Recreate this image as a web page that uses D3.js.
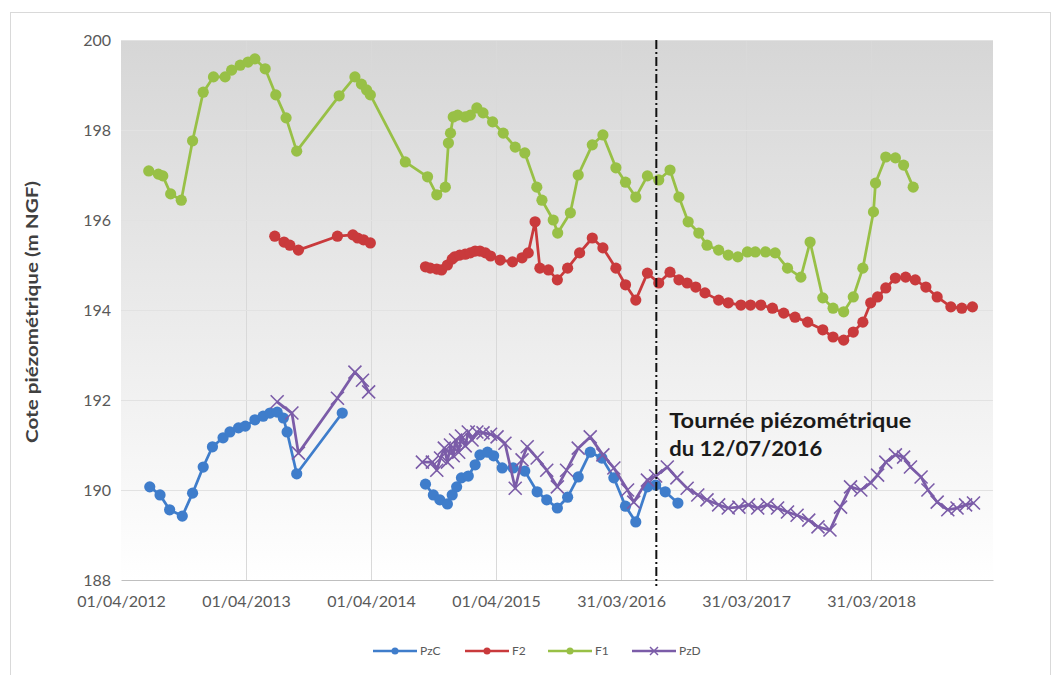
<!DOCTYPE html>
<html>
<head>
<meta charset="utf-8">
<script src="https://cdn.jsdelivr.net/npm/d3@7"></script>
<style>
  html, body { margin: 0; padding: 0; background: #ffffff; }
  svg { display: block; font-family: Lato, "Open Sans", sans-serif; }
</style>
</head>
<body>
<svg id="chart" width="1054" height="675"></svg>
<script>
// Piezometric levels (m NGF) of four wells; null marks a break in the record.
const seriesNames = ["PzC", "F2", "F1", "PzD"];
const seriesColors = ["#3f7dcb", "#c93a3c", "#98c046", "#7b5ca8"];

const pzC = [
  ["2012-06-24", 190.07], ["2012-07-24", 189.89], ["2012-08-21", 189.56], ["2012-09-27", 189.42],
  ["2012-10-27", 189.93], ["2012-11-27", 190.51], ["2012-12-24", 190.96], ["2013-01-24", 191.16],
  ["2013-02-13", 191.29], ["2013-03-10", 191.38], ["2013-03-30", 191.42], ["2013-04-27", 191.56],
  ["2013-05-21", 191.64], ["2013-06-10", 191.71], ["2013-07-01", 191.73], ["2013-07-19", 191.60],
  ["2013-07-30", 191.29], ["2013-08-27", 190.36], ["2014-01-07", 191.71],
  null,
  ["2014-09-07", 190.13], ["2014-09-30", 189.89], ["2014-10-19", 189.78], ["2014-11-10", 189.69],
  ["2014-11-24", 189.89], ["2014-12-07", 190.07], ["2014-12-21", 190.27], ["2015-01-10", 190.31],
  ["2015-01-30", 190.56], ["2015-02-13", 190.78], ["2015-03-07", 190.84], ["2015-03-25", 190.76],
  ["2015-04-19", 190.49], ["2015-05-21", 190.49], ["2015-06-24", 190.42], ["2015-07-30", 189.96],
  ["2015-08-27", 189.78], ["2015-09-27", 189.60], ["2015-10-27", 189.84], ["2015-11-27", 190.29],
  ["2016-01-01", 190.84], ["2016-02-04", 190.71], ["2016-03-10", 190.27], ["2016-04-13", 189.64],
  ["2016-05-13", 189.29], ["2016-06-16", 190.07], ["2016-07-10", 190.11], ["2016-08-07", 189.96],
  ["2016-09-13", 189.71]
];

const f2 = [
  ["2013-06-24", 195.64], ["2013-07-21", 195.51], ["2013-08-07", 195.44], ["2013-09-01", 195.33],
  ["2013-12-24", 195.64], ["2014-02-07", 195.67], ["2014-02-21", 195.60], ["2014-03-10", 195.56],
  ["2014-03-30", 195.49],
  null,
  ["2014-09-07", 194.96], ["2014-09-21", 194.93], ["2014-10-10", 194.91], ["2014-10-24", 194.89],
  ["2014-11-10", 195.00], ["2014-11-24", 195.13], ["2014-12-01", 195.18], ["2014-12-16", 195.22],
  ["2015-01-01", 195.24], ["2015-01-16", 195.27], ["2015-01-30", 195.31], ["2015-02-13", 195.31],
  ["2015-03-01", 195.27], ["2015-03-16", 195.20], ["2015-04-13", 195.11], ["2015-05-19", 195.07],
  ["2015-06-16", 195.16], ["2015-07-04", 195.27], ["2015-07-24", 195.96], ["2015-08-07", 194.93],
  ["2015-09-01", 194.89], ["2015-09-27", 194.67], ["2015-10-27", 194.93], ["2015-12-01", 195.27],
  ["2016-01-07", 195.60], ["2016-02-07", 195.38], ["2016-03-16", 194.93], ["2016-04-13", 194.56],
  ["2016-05-13", 194.22], ["2016-06-16", 194.82], ["2016-07-19", 194.60], ["2016-08-21", 194.84],
  ["2016-09-16", 194.67], ["2016-10-10", 194.60], ["2016-11-04", 194.51], ["2016-12-01", 194.38],
  ["2017-01-10", 194.22], ["2017-02-07", 194.16], ["2017-03-16", 194.11], ["2017-04-13", 194.11],
  ["2017-05-13", 194.11], ["2017-06-16", 194.04], ["2017-07-19", 193.93], ["2017-08-21", 193.84],
  ["2017-09-27", 193.73], ["2017-11-10", 193.56], ["2017-12-10", 193.40], ["2018-01-10", 193.33],
  ["2018-02-07", 193.51], ["2018-03-07", 193.73], ["2018-03-30", 194.16], ["2018-04-19", 194.29],
  ["2018-05-13", 194.49], ["2018-06-10", 194.71], ["2018-07-10", 194.73], ["2018-08-07", 194.67],
  ["2018-09-07", 194.51], ["2018-10-10", 194.29], ["2018-11-19", 194.07], ["2018-12-21", 194.04],
  ["2019-01-21", 194.07]
];

const f1 = [
  ["2012-06-21", 197.09], ["2012-07-19", 197.02], ["2012-08-01", 196.98], ["2012-08-24", 196.58],
  ["2012-09-24", 196.44], ["2012-10-27", 197.76], ["2012-11-27", 198.84], ["2012-12-27", 199.18],
  ["2013-01-30", 199.18], ["2013-02-18", 199.33], ["2013-03-15", 199.44], ["2013-04-07", 199.51],
  ["2013-04-27", 199.58], ["2013-05-27", 199.36], ["2013-06-27", 198.78], ["2013-07-27", 198.27],
  ["2013-08-27", 197.53], ["2013-12-29", 198.76], ["2014-02-13", 199.18], ["2014-03-04", 199.02],
  ["2014-03-19", 198.89], ["2014-03-30", 198.78], ["2014-07-10", 197.29], ["2014-09-13", 196.96],
  ["2014-10-10", 196.56], ["2014-11-04", 196.73], ["2014-11-13", 197.71], ["2014-11-19", 197.93],
  ["2014-11-27", 198.29], ["2014-12-10", 198.33], ["2015-01-01", 198.29], ["2015-01-16", 198.33],
  ["2015-02-04", 198.49], ["2015-02-22", 198.38], ["2015-03-22", 198.18], ["2015-04-22", 197.93],
  ["2015-05-27", 197.62], ["2015-06-24", 197.49], ["2015-07-29", 196.73], ["2015-08-13", 196.44],
  ["2015-09-15", 196.00], ["2015-09-28", 195.71], ["2015-11-04", 196.16], ["2015-11-27", 197.00],
  ["2016-01-07", 197.67], ["2016-02-07", 197.89], ["2016-03-16", 197.16], ["2016-04-13", 196.84],
  ["2016-05-13", 196.51], ["2016-06-16", 196.98], ["2016-07-19", 196.89], ["2016-08-21", 197.11],
  ["2016-09-16", 196.51], ["2016-10-13", 195.96], ["2016-11-13", 195.71], ["2016-12-07", 195.44],
  ["2017-01-10", 195.33], ["2017-02-07", 195.22], ["2017-03-07", 195.18], ["2017-04-04", 195.29],
  ["2017-04-27", 195.29], ["2017-05-27", 195.29], ["2017-06-24", 195.27], ["2017-07-30", 194.93],
  ["2017-09-07", 194.73], ["2017-10-04", 195.51], ["2017-11-10", 194.27], ["2017-12-10", 194.04],
  ["2018-01-10", 193.96], ["2018-02-07", 194.29], ["2018-03-07", 194.93], ["2018-04-07", 196.18],
  ["2018-04-13", 196.82], ["2018-05-13", 197.40], ["2018-06-10", 197.38], ["2018-07-04", 197.22],
  ["2018-08-01", 196.73]
];

const pzD = [
  ["2013-07-01", 191.96], ["2013-08-13", 191.71], ["2013-09-01", 190.82], ["2013-12-24", 192.04],
  ["2014-02-13", 192.62], ["2014-03-07", 192.44], ["2014-03-25", 192.18],
  null,
  ["2014-08-29", 190.62], ["2014-09-27", 190.62], ["2014-10-10", 190.44], ["2014-10-21", 190.71],
  ["2014-11-01", 190.93], ["2014-11-10", 190.62], ["2014-11-19", 191.00], ["2014-11-27", 190.76],
  ["2014-12-04", 191.11], ["2014-12-13", 190.84], ["2014-12-21", 191.20], ["2015-01-01", 190.98],
  ["2015-01-10", 191.29], ["2015-01-21", 191.11], ["2015-02-04", 191.29], ["2015-02-22", 191.27],
  ["2015-03-16", 191.24], ["2015-04-04", 191.18], ["2015-04-27", 191.04], ["2015-05-27", 190.04],
  ["2015-06-16", 190.67], ["2015-07-01", 190.96], ["2015-07-30", 190.71], ["2015-08-27", 190.44],
  ["2015-09-27", 190.07], ["2015-10-24", 190.44], ["2015-11-27", 190.93], ["2016-01-01", 191.18],
  ["2016-02-07", 190.78], ["2016-03-10", 190.49], ["2016-04-19", 190.00], ["2016-05-07", 189.73],
  ["2016-06-16", 190.22], ["2016-07-10", 190.31], ["2016-08-13", 190.51], ["2016-09-10", 190.27],
  ["2016-10-10", 190.04], ["2016-11-10", 189.89], ["2016-12-07", 189.78], ["2017-01-10", 189.67],
  ["2017-02-07", 189.60], ["2017-03-10", 189.62], ["2017-04-07", 189.67], ["2017-05-04", 189.60],
  ["2017-06-01", 189.67], ["2017-07-01", 189.60], ["2017-07-30", 189.51], ["2017-08-27", 189.44],
  ["2017-09-30", 189.33], ["2017-10-27", 189.18], ["2017-12-01", 189.11], ["2018-01-01", 189.62],
  ["2018-01-30", 190.07], ["2018-03-01", 190.00], ["2018-03-30", 190.16], ["2018-04-19", 190.33],
  ["2018-05-13", 190.62], ["2018-06-10", 190.78], ["2018-07-04", 190.73], ["2018-07-24", 190.51],
  ["2018-08-24", 190.29], ["2018-09-13", 190.00], ["2018-10-10", 189.73], ["2018-11-10", 189.56],
  ["2018-12-07", 189.60], ["2019-01-01", 189.67], ["2019-01-24", 189.71]
];

const xDomain = ["2012-04-01", "2019-03-22"];
const xTickDates = ["2012-04-01", "2013-04-01", "2014-04-01", "2015-04-01", "2016-03-31", "2017-03-31", "2018-03-31"];
const yDomain = [188, 200];
const yTicks = [188, 190, 192, 194, 196, 198, 200];
const surveyDate = "2016-07-12";
const surveyLabel = ["Tournée piézométrique", "du 12/07/2016"];
const yTitle = "Cote piézométrique (m NGF)";

const parse = d3.utcParse("%Y-%m-%d");
const fmt = d3.utcFormat("%d/%m/%Y");

const svg = d3.select("#chart");
const plot = { left: 121, right: 993, top: 40, bottom: 580 };

const x = d3.scaleUtc().domain(xDomain.map(parse)).range([plot.left, plot.right]);
const y = d3.scaleLinear().domain(yDomain).range([plot.bottom, plot.top]);

// outer chart frame
svg.append("rect").attr("x", 10.5).attr("y", 12.5).attr("width", 1040).attr("height", 664)
  .attr("fill", "#ffffff").attr("stroke", "#d9d9d9").attr("stroke-width", 1);

// plot-area gradient fill
const defs = svg.append("defs");
const grad = defs.append("linearGradient").attr("id", "plotFill")
  .attr("x1", 0).attr("y1", 0).attr("x2", 0).attr("y2", 1);
grad.append("stop").attr("offset", "0%").attr("stop-color", "#d6d6d6");
grad.append("stop").attr("offset", "100%").attr("stop-color", "#ffffff");
svg.append("rect").attr("x", plot.left).attr("y", plot.top)
  .attr("width", plot.right - plot.left).attr("height", plot.bottom - plot.top)
  .attr("fill", "url(#plotFill)");

// gridlines
const tickDates = xTickDates.map(parse);
svg.append("g").selectAll("line").data(tickDates.slice(1)).join("line")
  .attr("x1", d => Math.round(x(d)) + 0.5).attr("x2", d => Math.round(x(d)) + 0.5)
  .attr("y1", plot.top).attr("y2", plot.bottom)
  .attr("stroke", "#d9d9d9").attr("stroke-width", 1);
svg.append("g").selectAll("line").data(yTicks.slice(1)).join("line")
  .attr("x1", plot.left).attr("x2", plot.right)
  .attr("y1", d => Math.round(y(d)) + 0.5).attr("y2", d => Math.round(y(d)) + 0.5)
  .attr("stroke", "#e2e2e2").attr("stroke-width", 1);

// axes
const xAxis = svg.append("g").attr("transform", `translate(0,${plot.bottom})`)
  .call(d3.axisBottom(x).tickValues(tickDates).tickFormat(fmt).tickSize(0).tickPadding(16));
xAxis.select(".domain").attr("stroke", "#bfbfbf").attr("stroke-width", 1.2);
xAxis.selectAll("text").attr("fill", "#595959").style("font-size", "16px").style("font-family", "Lato, sans-serif");

const yAxis = svg.append("g").attr("transform", `translate(${plot.left},0)`)
  .call(d3.axisLeft(y).tickValues(yTicks).tickFormat(d3.format("d")).tickSize(0).tickPadding(10));
yAxis.select(".domain").remove();
yAxis.selectAll("text").attr("fill", "#595959").style("font-size", "16px").style("font-family", "Lato, sans-serif");

svg.append("text")
  .attr("transform", "translate(38,312) rotate(-90)")
  .attr("text-anchor", "middle")
  .attr("textLength", 262).attr("lengthAdjust", "spacingAndGlyphs")
  .attr("fill", "#404040").style("font-size", "17px").style("font-weight", "bold")
  .text(yTitle);

// series
const allSeries = [pzC, f2, f1, pzD];
const line = d3.line()
  .defined(d => d !== null)
  .x(d => x(parse(d[0])))
  .y(d => y(d[1]));

allSeries.forEach((data, i) => {
  const g = svg.append("g");
  g.append("path").datum(data).attr("d", line)
    .attr("fill", "none").attr("stroke", seriesColors[i])
    .attr("stroke-width", 2.75).attr("stroke-linejoin", "round");
  const pts = data.filter(d => d !== null);
  if (seriesNames[i] === "PzD") {
    const s = 6.5;
    g.selectAll("path.mk").data(pts).join("path").attr("class", "mk")
      .attr("d", d => {
        const cx = x(parse(d[0])), cy = y(d[1]);
        return `M${cx - s},${cy - s}L${cx + s},${cy + s}M${cx - s},${cy + s}L${cx + s},${cy - s}`;
      })
      .attr("stroke", seriesColors[i]).attr("stroke-width", 1.6).attr("fill", "none");
  } else {
    g.selectAll("circle").data(pts).join("circle")
      .attr("cx", d => x(parse(d[0]))).attr("cy", d => y(d[1])).attr("r", 5.6)
      .attr("fill", seriesColors[i]);
  }
});

// survey date marker
const xs = x(parse(surveyDate));
svg.append("line").attr("x1", xs).attr("x2", xs).attr("y1", plot.top).attr("y2", plot.bottom + 6)
  .attr("stroke", "#111").attr("stroke-width", 2).attr("stroke-dasharray", "9,3,2,3");
const labelWidths = [242, 153];
svg.append("g").selectAll("text").data(surveyLabel).join("text")
  .attr("x", xs + 13).attr("y", (d, i) => 428 + i * 28)
  .attr("textLength", (d, i) => labelWidths[i]).attr("lengthAdjust", "spacingAndGlyphs")
  .attr("fill", "#1a1a1a").style("font-size", "21px").style("font-weight", "bold")
  .text(d => d);

// legend
const legendX = [373, 465, 548, 632];
const legend = svg.append("g").attr("transform", "translate(0,651)");
seriesNames.forEach((name, i) => {
  const lx = legendX[i];
  legend.append("line").attr("x1", lx).attr("x2", lx + 44).attr("y1", 0).attr("y2", 0)
    .attr("stroke", seriesColors[i]).attr("stroke-width", 2.5);
  if (name === "PzD") {
    const cx = lx + 22, s = 4;
    legend.append("path").attr("d", `M${cx - s},${-s}L${cx + s},${s}M${cx - s},${s}L${cx + s},${-s}`)
      .attr("stroke", seriesColors[i]).attr("stroke-width", 1.5);
  } else {
    legend.append("circle").attr("cx", lx + 22).attr("cy", 0).attr("r", 3.5).attr("fill", seriesColors[i]);
  }
  legend.append("text").attr("x", lx + 47).attr("y", 4)
    .attr("fill", "#595959").style("font-size", "12px").text(name);
});
</script>
</body>
</html>
